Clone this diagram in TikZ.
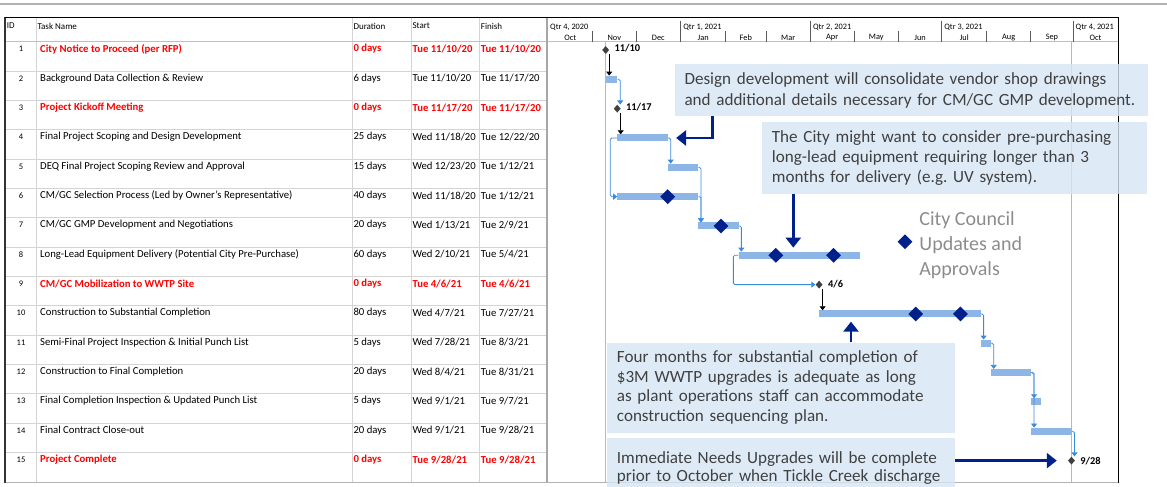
\documentclass[tikz,border=0pt]{standalone}
\usepackage{fontspec}
\setmainfont{Carlito}
\usepackage{tikz}
\usetikzlibrary{shapes.geometric,arrows.meta,positioning,calc}
\definecolor{taskRed}{HTML}{FF0000}
\definecolor{barBlue}{HTML}{8DB6E6}
\definecolor{linkBlue}{HTML}{3A8AE0}
\definecolor{navyBlue}{HTML}{00208C}
\definecolor{noteBlue}{HTML}{D6E6F5}
\definecolor{noteText}{HTML}{404040}
\definecolor{legendGray}{HTML}{8C8C8C}
\definecolor{gridGray}{HTML}{D4D4D4}
\frenchspacing

% one line of the task table: id, name, duration, start, finish, style
\newcommand{\ganttrow}[6]{%
  \node[idcell] (id#1) at (21,{19.67+29.33*#1}) {#1};
  \node[cell,#6] (task#1) at (40,{19.67+29.33*#1}) {#2};
  \node[cell,#6] (dur#1) at (353.3,{19.67+29.33*#1}) {#3};
  \node[cell,#6] (start#1) at (412.3,{19.67+29.33*#1}) {#4};
  \node[cell,#6] (fin#1) at (480.7,{19.67+29.33*#1}) {#5};
}
% bar: name, row, first day, day after last (days from 1 Oct 2020)
\newcommand{\ganttbar}[4]{%
  \node[bar, minimum width={(#4-#3)*1.442pt}] (#1) at ({548+1.442*#3},{20.67+29.33*#2}) {};
}
% mark: style, name, row, day
\newcommand{\ganttmark}[4]{%
  \node[#1] (#2) at ({548+1.442*#4},{20.67+29.33*#3}) {};
}

\begin{document}
\begin{tikzpicture}[x=1pt, y=-1pt,
    cell/.style={anchor=west, inner sep=0pt, font=\fontsize{10.7}{12}\selectfont},
    crit/.style={text=taskRed, font=\fontsize{10.7}{12}\selectfont\bfseries},
    idcell/.style={inner sep=0pt, font=\fontsize{8.5}{10}\selectfont},
    hdr/.style={anchor=west, inner sep=0pt, font=\fontsize{9}{10}\selectfont},
    tscale/.style={inner sep=0pt, font=\fontsize{8.3}{9}\selectfont},
    gridline/.style={draw=gridGray, line width=0.8pt},
    bar/.style={anchor=west, fill=barBlue, minimum height=7pt, inner sep=0pt},
    msmark/.style={diamond, fill=black!75, minimum width=7pt, minimum height=8pt, inner sep=0pt},
    council/.style={diamond, fill=navyBlue, minimum width=15pt, minimum height=15pt, inner sep=0pt},
    mslabel/.style={inner sep=0pt, font=\fontsize{10.4}{12}\selectfont\bfseries},
    link/.style={draw=linkBlue, line width=0.8pt, rounded corners=1.5pt, -{Triangle[width=6pt,length=4pt]}},
    critlink/.style={draw=black, line width=0.8pt, -{Triangle[width=6pt,length=4pt]}},
    note/.style={anchor=north west, fill=noteBlue, fill opacity=0.8, text opacity=1, text=noteText,
                 align=left, inner xsep=10pt, inner ysep=0pt, font=\fontsize{17.1}{20}\selectfont},
    callarrow/.style={draw=navyBlue, line width=2.5pt, -{Triangle[width=15pt,length=10pt]}},
]
    \useasboundingbox (0,0) rectangle (1167,487);
    \draw[gray!60, line width=1.5pt] (0,4) -- (1167,4);

    % table grid
    \foreach \cx in {36,352.3,411,479.3}
        \draw[gridline] (\cx,17.3) -- (\cx,481.7);
    \foreach \r in {1,...,14}
        \draw[gridline] (5,{41.7+29.33*\r}) -- (547,{41.7+29.33*\r});
    \draw[gray!50, line width=0.8pt] (5,41.7) -- (1118.3,41.7);
    \draw[gray!60, line width=1.5pt] (5,482.5) -- (1118.3,482.5);
    \draw[black!80, line width=1.5pt] (5,17.3) -- (5,483);
    \draw[gray!70, line width=1.8pt] (547,17.3) -- (547,482);
    \draw[black, line width=1.2pt] (1118.3,17.3) -- (1118.3,483);
    \draw[black, line width=1.3pt] (5,17.3) -- (1118.3,17.3);

    % column heads
    \node[hdr] (hdrId) at (6.7,26) {ID};
    \node[hdr] (hdrTask) at (37.3,26) {Task Name};
    \node[hdr] (hdrDur) at (353.3,26) {Duration};
    \node[hdr] (hdrStart) at (412.3,26) {Start};
    \node[hdr] (hdrFinish) at (480.7,26) {Finish};

    % timescale
    \foreach \qx in {680.7,810.4,941.7,1073}
        \draw[black!65, line width=0.7pt] (\qx,21) -- (\qx,41.7);
    \foreach \mx in {592.7,636,725.6,766,854,898.6,986.6,1030.8}
        \draw[black!65, line width=0.7pt] (\mx,31) -- (\mx,41.7);
    \foreach \qx/\qn [count=\k] in {550/{Qtr 4, 2020},683.2/{Qtr 1, 2021},812.9/{Qtr 2, 2021},
                                    944.2/{Qtr 3, 2021},1075.5/{Qtr 4, 2021}}
        \node[tscale, anchor=west] (qtr\k) at (\qx,27.3) {\qn};
    \foreach \mx/\mn [count=\k] in {570.3/Oct,614.3/Nov,658.3/Dec,703.2/Jan,745.8/Feb,788.2/Mar,
                                    832.2/Apr,876.3/May,920.1/Jun,964.2/Jul,1008.7/Aug,1051.9/Sep,1095.5/Oct}
        \node[tscale] (mon\k) at (\mx,37.4) {\mn};

    % tasks
    \ganttrow{1}{City Notice to Proceed (per RFP)}{0 days}{Tue 11/10/20}{Tue 11/10/20}{crit}
    \ganttrow{2}{Background Data Collection \& Review}{6 days}{Tue 11/10/20}{Tue 11/17/20}{}
    \ganttrow{3}{Project Kickoff Meeting}{0 days}{Tue 11/17/20}{Tue 11/17/20}{crit}
    \ganttrow{4}{Final Project Scoping and Design Development}{25 days}{Wed 11/18/20}{Tue 12/22/20}{}
    \ganttrow{5}{DEQ Final Project Scoping Review and Approval}{15 days}{Wed 12/23/20}{Tue 1/12/21}{}
    \ganttrow{6}{CM/GC Selection Process (Led by Owner's Representative)}{40 days}{Wed 11/18/20}{Tue 1/12/21}{}
    \ganttrow{7}{CM/GC GMP Development and Negotiations}{20 days}{Wed 1/13/21}{Tue 2/9/21}{}
    \ganttrow{8}{Long-Lead Equipment Delivery (Potential City Pre-Purchase)}{60 days}{Wed 2/10/21}{Tue 5/4/21}{}
    \ganttrow{9}{CM/GC Mobilization to WWTP Site}{0 days}{Tue 4/6/21}{Tue 4/6/21}{crit}
    \ganttrow{10}{Construction to Substantial Completion}{80 days}{Wed 4/7/21}{Tue 7/27/21}{}
    \ganttrow{11}{Semi-Final Project Inspection \& Initial Punch List}{5 days}{Wed 7/28/21}{Tue 8/3/21}{}
    \ganttrow{12}{Construction to Final Completion}{20 days}{Wed 8/4/21}{Tue 8/31/21}{}
    \ganttrow{13}{Final Completion Inspection \& Updated Punch List}{5 days}{Wed 9/1/21}{Tue 9/7/21}{}
    \ganttrow{14}{Final Contract Close-out}{20 days}{Wed 9/1/21}{Tue 9/28/21}{}
    \ganttrow{15}{Project Complete}{0 days}{Tue 9/28/21}{Tue 9/28/21}{crit}

    % start and finish lines
    \draw[gray!55, line width=1pt] (605.7,41.7) -- (605.7,481.7);
    \draw[gray!55, line width=1pt] (1071.4,41.7) -- (1071.4,481.7);

    % bars
    \ganttbar{bar2}{2}{40}{48}
    \ganttbar{bar4}{4}{48}{83}
    \ganttbar{bar5}{5}{83}{104}
    \ganttbar{bar6}{6}{48}{104}
    \ganttbar{bar7}{7}{104}{132}
    \ganttbar{bar8}{8}{132}{216}
    \ganttbar{bar10}{10}{188}{300}
    \ganttbar{bar11}{11}{300}{307}
    \ganttbar{bar12}{12}{307}{335}
    \ganttbar{bar13}{13}{335}{342}
    \ganttbar{bar14}{14}{335}{363}

    % milestones
    \ganttmark{msmark}{ms1}{1}{40}
    \ganttmark{msmark}{ms3}{3}{48}
    \ganttmark{msmark}{ms9}{9}{188}
    \ganttmark{msmark}{ms15}{15}{363}
    \node[mslabel, right=5pt of ms1, yshift=2pt] (ms1lbl) {11/10};
    \node[mslabel, right=5pt of ms3, yshift=2pt] (ms3lbl) {11/17};
    \node[mslabel, right=5pt of ms9, yshift=1pt] (ms9lbl) {4/6};
    \node[mslabel, right=5pt of ms15] (ms15lbl) {9/28};

    % links
    \draw[critlink] ([xshift=3.5pt]ms1.south) -- ([xshift=3.5pt]bar2.north west);
    \draw[link] (bar2.east) -| ([xshift=3pt]ms3.north);
    \draw[critlink] ([xshift=3.5pt]ms3.south) -- ([xshift=3.5pt]bar4.north west);
    \draw[link] (bar4.east) -| ([xshift=3pt]bar5.north west);
    \draw[link] (bar4.west) -- ++(-7,0) |- (bar6.west);
    \draw[link] (bar5.east) -| ([xshift=3pt]bar7.north west);
    \draw[link] (bar6.east) -| ([xshift=3pt]bar7.north west);
    \draw[link] (bar7.east) -| ([xshift=3pt]bar8.north west);
    \draw[link] (bar8.west) -- ++(-5,0) |- (ms9.west);
    \draw[critlink] ([xshift=3.5pt]ms9.south) -- ([xshift=3.5pt]bar10.north west);
    \draw[link] (bar10.east) -| ([xshift=3pt]bar11.north west);
    \draw[link] (bar11.east) -| ([xshift=3pt]bar12.north west);
    \draw[link] (bar12.east) -| ([xshift=3pt]bar13.north west);
    \draw[link] (bar12.east) -| ([xshift=3pt]bar14.north west);
    \draw[link] (bar14.east) -| ([xshift=3pt]ms15.north);

    % council updates
    \ganttmark{council}{cm6}{6}{83}
    \ganttmark{council}{cm7}{7}{120}
    \ganttmark{council}{cm8a}{8}{158}
    \ganttmark{council}{cm8b}{8}{198}
    \ganttmark{council}{cm10a}{10}{255}
    \ganttmark{council}{cm10b}{10}{286}

    % notes
    \node[note, text width=453.7pt, minimum height=52pt, font=\fontsize{17.1}{21}\selectfont]
        (noteDesign) at (674.3,64)
        {Design development will consolidate vendor shop drawings\\and additional details necessary for CM/GC GMP development.};
    \node[note, text width=365pt, minimum height=71.6pt] (noteLead) at (761.7,121.7)
        {The City might want to consider pre-purchasing\\long-lead equipment requiring longer than 3\\months for delivery (e.g. UV system).};
    \node[note, text width=328.3pt, minimum height=90.4pt, font=\fontsize{17.1}{19.5}\selectfont]
        (noteFour) at (606.7,342.3)
        {Four months for substantial completion of\\\$3M WWTP upgrades is adequate as long\\as plant operations staff can accommodate\\construction sequencing plan.};
    \node[note, text width=328.3pt, minimum height=60pt, font=\fontsize{17.1}{18.5}\selectfont]
        (noteNeeds) at (606.7,437.7)
        {Immediate Needs Upgrades will be complete\\prior to October when Tickle Creek discharge};

    \draw[callarrow] ([xshift=38.4pt]noteDesign.south west) |- ([xshift=8pt]bar4.east);
    \draw[callarrow, shorten >=4pt] ([xshift=31.6pt]noteLead.south west) coordinate (leadFoot)
        -- (leadFoot |- bar8.north);
    \draw[callarrow, shorten >=4pt] ([xshift=244.3pt]noteFour.north west) coordinate (fourFoot)
        -- (fourFoot |- bar10.south);
    \draw[callarrow, shorten >=11pt] (noteNeeds.east |- ms15) -- (ms15);

    % legend
    \node[council] (legendMark) at (905,241.7) {};
    \node[right=6.5pt of legendMark, yshift=-3pt, inner sep=0pt, align=left, text=legendGray,
          font=\fontsize{20}{25}\selectfont] (legendText) {City Council\\Updates and\\Approvals};
\end{tikzpicture}
\end{document}
